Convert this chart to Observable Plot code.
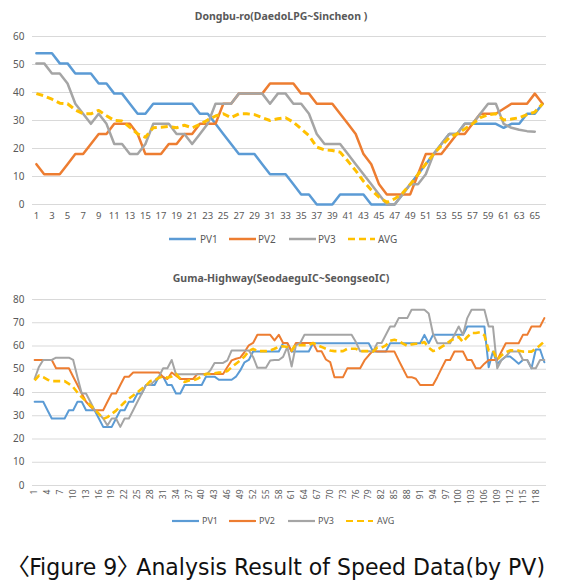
<!DOCTYPE html>
<html>
<head>
<meta charset="utf-8">
<script src="https://cdn.jsdelivr.net/npm/d3@7"></script>
<script src="https://cdn.jsdelivr.net/npm/@observablehq/plot@0.6"></script>
<style>
  html, body { margin: 0; padding: 0; background: #fff; }
  #wrap { position: relative; width: 565px; height: 587px; background: #fff; overflow: hidden; }
  #top, #bottom { position: absolute; left: 0; }
  #top { top: 0; }
  #bottom { top: 270px; }
  #overlay { position: absolute; left: 0; top: 0; pointer-events: none; }
  .cap { font-feature-settings: "palt" 1; font-stretch: condensed; }
</style>
</head>
<body>
<div id="wrap">
  <div id="top"></div>
  <div id="bottom"></div>
  <svg id="overlay" width="565" height="587"></svg>
</div>
<script>
// ---------- data ----------
const seriesNames = ["PV1", "PV2", "PV3", "AVG"];
const seriesColors = ["#5B9BD5", "#ED7D31", "#A5A5A5", "#FFC000"];

const topTitle = "Dongbu-ro(DaedoLPG~Sincheon )";
const bottomTitle = "Guma-Highway(SeodaeguIC~SeongseoIC)";
const caption = "〈Figure 9〉 Analysis Result of Speed Data(by PV)";

const topYTicks = [0, 10, 20, 30, 40, 50, 60];
const topXTicks = [1,3,5,7,9,11,13,15,17,19,21,23,25,27,29,31,33,35,37,39,41,43,45,47,49,51,53,55,57,59,61,63,65];

const topPV1 = [54,54,54,50.4,50.4,46.8,46.8,46.8,43.2,43.2,39.6,39.6,36,32.4,32.4,36,36,36,36,36,36,32.4,32.4,28.8,25.2,21.6,18,18,18,14.4,10.8,10.8,10.8,7.2,3.6,3.6,0,0,0,3.6,3.6,3.6,3.6,0,0,0,0,3.6,7.2,10.8,14.4,18,21.6,25.2,25.2,28.8,28.8,28.8,28.8,28.8,27.4,28.8,28.8,32.4,32.4,36];
const topPV2 = [14.4,10.8,10.8,10.8,14.4,18,18,21.6,25.2,25.2,28.8,28.8,28.8,25.2,18,18,18,21.6,21.6,25.2,25.2,28.8,28.8,28.8,36,36,39.6,39.6,39.6,39.6,43.2,43.2,43.2,43.2,39.6,39.6,36,36,36,32.4,28.8,25.2,18,14.4,7.2,3.6,3.6,3.6,3.6,10.8,18,18,18,21.6,25.2,25.2,28.8,32.4,32.4,32.4,34.2,36,36,36,39.6,36];
const topPV3 = [50.4,50.4,46.8,46.8,43.2,36,32.4,28.8,32.4,28.8,21.6,21.6,18,18,21.6,28.8,28.8,28.8,25.2,25.2,21.6,25.2,28.8,36,36,36,39.6,39.6,39.6,39.6,36,39.6,39.6,36,36,32.4,25.2,21.6,21.6,21.6,18,14.4,10.8,7.2,3.6,0,0,3.6,7.2,7.2,10.8,18,21.6,25.2,25.2,28.8,28.8,32.4,36,36,28.8,27.4,26.7,26.2,26];
const topAVG = [39.6,38.8,37.6,36.2,36,33.8,32.4,32.4,33.6,31.7,30,29.8,27.6,25.2,24,27.4,27.6,27.9,27.4,28.3,27.4,28.6,30.2,31.6,32.4,31,32.4,32.4,32.1,31,30,30.6,31,29.4,27,24.6,20.5,19.5,19.3,18.7,15.5,12.1,8.3,5.2,2.6,0.8,2,4,7.2,10.7,14.5,18,21,23.8,25.2,27,28.8,31,32.1,32.4,30.2,30.5,31,32.1,33,36];

const bottomYTicks = [0, 10, 20, 30, 40, 50, 60, 70, 80];
const bottomXTicks = [1,4,7,10,13,16,19,22,25,28,31,34,37,40,43,46,49,52,55,58,61,64,67,70,73,76,79,82,85,88,91,94,97,100,103,106,109,112,115,118];

const botPV1 = [36,36,36,32.4,28.8,28.8,28.8,28.8,32.4,32.4,36,36,32.4,32.4,32.4,28.8,25.2,25.2,25.2,28.8,32.4,32.4,36,36,39.6,39.6,43.2,43.2,43.2,46.8,46.8,43.2,43.2,39.6,39.6,43.2,43.2,43.2,43.2,43.2,
46.8,46.8,46.8,45.5,45.5,45.5,45.5,46.8,49.5,53,54,57.6,57.6,57.6,57.6,57.6,57.6,57.6,61.2,61.2,57.6,57.6,57.6,57.6,57.6,61.2,61.2,61.2,61.2,61.2,61.2,61.2,61.2,61.2,61.2,61.2,61.2,61.2,61.2,57.6,
57.6,57.6,57.6,61.2,61.2,61.2,61.2,61.2,61.2,61.2,61.2,64.8,61.2,64.8,64.8,64.8,64.8,64.8,64.8,64.8,64.8,68.4,68.4,68.4,68.4,68.4,50.9,57.6,52.4,54,55.5,55.5,54,52.4,54,54,50.4,58.5,58.5,53];
const botPV2 = [54,54,54,54,54,50.4,50.4,50.4,50.4,46.8,43.2,39.6,36,34,32.4,32.4,32.4,36,39.6,39.6,43.2,46.8,46.8,48.6,48.6,48.6,48.6,48.6,48.6,48.6,46.6,45.8,48.6,47.2,45.8,45.8,45.8,45.8,48,48,
48,48,48,48,48,51,53.8,54.5,55,57.4,60.3,61.3,64.8,64.8,64.8,64.8,62.4,64.8,61.3,61.3,57.7,61.3,61.3,61.3,61.3,61.3,57.7,57.7,54.2,53.1,46.6,46.6,46.6,50.4,50.4,50.4,50.4,53.8,56,58,
57.6,57.6,57.6,57.6,57.6,53.8,50.2,46.6,46.6,45.9,43.2,43.2,43.2,43.2,46.6,50.4,54,54,57.6,57.6,57.6,54,54,50.4,50.4,52.4,54,54,54,57.6,61.2,61.2,61.2,61.2,64.8,64.8,68.4,68.4,68.4,72];
const botPV3 = [45.9,51,54,54,54,55,55,55,55,54,46.6,39.6,39.6,36,32.4,30.8,28.8,25.8,28.8,28.8,25.2,28.8,28.8,32.4,36,39.6,43.2,43.2,45,46.8,50.4,50.4,54,47.8,47.8,47.8,47.8,47.8,47.8,47.8,
47.6,49.5,52.7,52.7,52.7,53.8,58.1,58.1,58.1,58.1,58.1,55.3,50.6,50.6,50.6,53.8,54,54,55.3,59.6,51.2,60.3,61.3,64.8,64.8,64.8,64.8,64.8,64.8,64.8,64.8,64.8,64.8,64.8,64.8,61.7,57.7,57.7,57.7,57.6,
61.3,61.3,64.8,68.4,68.4,72,72,72,75.6,75.6,75.6,75.6,74,65.3,61.2,61.2,61.2,61.2,64.8,68.4,64.8,72,75.6,75.6,75.6,75.6,68.4,68.4,50.4,54,55.5,57.6,57.6,57.6,54,54,50.4,50.4,54,54];
const botAVG = [45.2,47.3,46.6,45.5,44.9,44.9,44.9,44.9,43.7,42.3,40,38,36.3,34.5,32.8,30.8,28.6,29.4,30.8,32.2,34,35.8,37.3,38.7,40.1,41.6,43,44.9,45.2,46.3,46.9,46.3,46.9,48,45.9,44.5,45.2,45.2,45.9,47,
48,48,48.3,48.6,48.6,49.2,50.9,52.4,53.8,55.5,57.8,58.8,57.8,57.8,57.8,58.1,58.8,59.6,59.9,59.6,58.1,60.7,60.3,60.3,60.3,61.3,60.3,59.6,58.8,58.1,57.8,57.8,57.8,58.8,58.8,58.8,57.8,57.8,57.8,57.6,
59.3,59.3,60.3,62.2,62.7,62.2,61,60.1,60.7,61,61,61.7,59.3,57.8,58.4,59.6,60.7,62.2,63.2,63.9,61.7,63.9,65.6,65.6,65.9,64.6,58.1,58.1,54.1,56,57.3,58.1,58.1,58,57.6,57.6,57.6,58.8,60.3,62];

// ---------- helpers ----------
const FONT = "'Noto Sans', 'Open Sans', sans-serif";
const AXIS_COLOR = "#595959";
const GRID_COLOR = "#D9D9D9";

function toRows(arr) { return arr.map((v, k) => ({i: k + 1, v})); }

function seriesMarks(list, widths) {
  return list.map((arr, s) => Plot.line(toRows(arr), {
    x: "i", y: "v",
    stroke: seriesColors[s],
    strokeWidth: widths[s],
    strokeDasharray: seriesNames[s] === "AVG" ? "7,4" : null,
    strokeLinejoin: "round",
    strokeLinecap: s === 3 ? "butt" : "round",
    curve: "linear"
  }));
}

// ---------- top chart ----------
const topN = topAVG.length;
const topChart = Plot.plot({
  width: 565,
  height: 228,
  marginTop: 36,
  marginBottom: 24,
  marginLeft: 32,
  marginRight: 19,
  style: {fontFamily: FONT, background: "transparent", color: AXIS_COLOR},
  x: {domain: [0.5, topN + 0.5]},
  y: {domain: [0, 60]},
  marks: [
    Plot.ruleY(topYTicks, {stroke: GRID_COLOR, strokeWidth: 1}),
    Plot.axisY({ticks: topYTicks, tickSize: 0, tickPadding: 8, fontSize: 10, label: null, fill: AXIS_COLOR}),
    Plot.axisX({ticks: topXTicks, tickSize: 0, tickPadding: 8, fontSize: 9.5, label: null, fill: AXIS_COLOR, tickFormat: d => String(d)}),
    ...seriesMarks([topPV1, topPV2, topPV3, topAVG], [2.5, 2.5, 2.5, 3])
  ]
});
document.getElementById("top").appendChild(topChart);

// ---------- bottom chart ----------
const botN = botAVG.length;
const bottomChart = Plot.plot({
  width: 565,
  height: 250,
  marginTop: 29,
  marginBottom: 35,
  marginLeft: 32,
  marginRight: 19,
  style: {fontFamily: FONT, background: "transparent", color: AXIS_COLOR},
  x: {domain: [0.5, botN + 0.5]},
  y: {domain: [0, 80]},
  marks: [
    Plot.ruleY(bottomYTicks, {stroke: GRID_COLOR, strokeWidth: 1}),
    Plot.axisY({ticks: bottomYTicks, tickSize: 0, tickPadding: 8, fontSize: 10, label: null, fill: AXIS_COLOR}),
    Plot.axisX({ticks: bottomXTicks, tickSize: 0, tickPadding: 4, tickRotate: -90, fontSize: 8.5, label: null, fill: AXIS_COLOR, tickFormat: d => String(d)}),
    ...seriesMarks([botPV1, botPV2, botPV3, botAVG], [2, 2, 2, 2.6])
  ]
});
document.getElementById("bottom").appendChild(bottomChart);

// ---------- titles, legends, caption ----------
const ov = d3.select("#overlay");

ov.append("text").attr("x", 281).attr("y", 20).attr("text-anchor", "middle")
  .attr("font-family", FONT).attr("font-size", 10.5).attr("font-weight", "bold")
  .attr("fill", AXIS_COLOR).text(topTitle);

ov.append("text").attr("x", 281).attr("y", 282).attr("text-anchor", "middle")
  .attr("font-family", FONT).attr("font-size", 10.5).attr("font-weight", "bold")
  .attr("fill", AXIS_COLOR).text(bottomTitle);

function legend(y, fontSize, lineStarts, textStarts, sw) {
  seriesNames.forEach((name, s) => {
    ov.append("line")
      .attr("x1", lineStarts[s]).attr("x2", lineStarts[s] + 27)
      .attr("y1", y).attr("y2", y)
      .attr("stroke", seriesColors[s]).attr("stroke-width", sw)
      .attr("stroke-dasharray", name === "AVG" ? "7,4" : null);
    ov.append("text")
      .attr("x", textStarts[s]).attr("y", y).attr("dy", "0.35em")
      .attr("font-family", FONT).attr("font-size", fontSize)
      .attr("fill", AXIS_COLOR).text(name);
  });
}
legend(239, 10, [169, 229, 289, 348], [200, 258, 318, 378], 2.5);
legend(521, 9, [172, 229, 288, 346], [202, 259, 318, 377], 2.2);

ov.append("text").attr("class", "cap").attr("x", 17).attr("y", 575)
  .attr("font-family", "'Liberation Sans Narrow', 'DejaVu Sans Condensed', 'Noto Sans CJK KR', 'Noto Sans', sans-serif")
  .attr("font-size", 23).attr("fill", "#111")
  .attr("textLength", 528).attr("lengthAdjust", "spacingAndGlyphs")
  .text(caption);
</script>
</body>
</html>
